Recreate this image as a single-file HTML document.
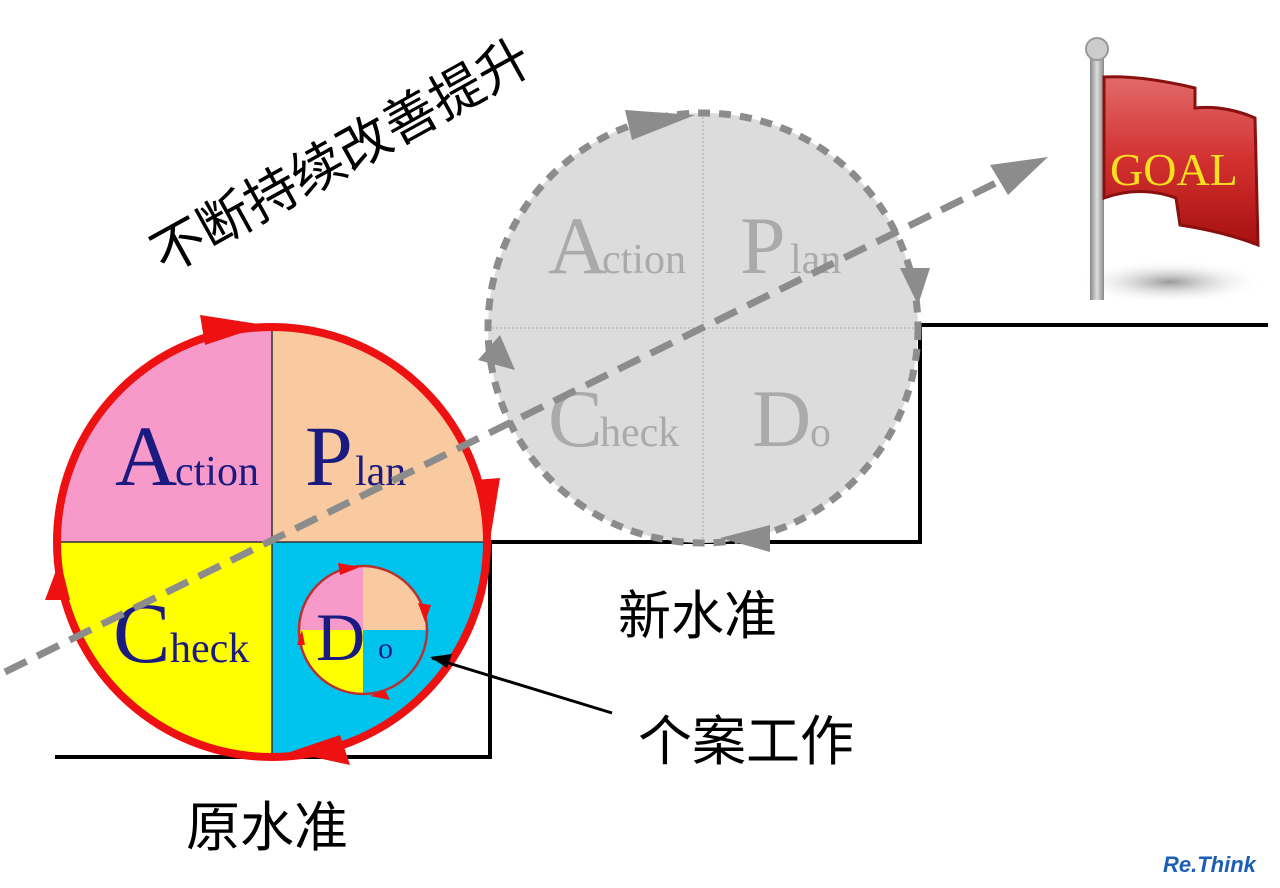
<!DOCTYPE html>
<html><head><meta charset="utf-8"><style>
html,body{margin:0;padding:0;background:#fff;}
svg{display:block}
.ser{font-family:"Liberation Serif",serif;}
.cjk{font-family:"Liberation Sans","Noto Sans CJK SC",sans-serif;}
</style></head><body>
<svg width="1280" height="888" viewBox="0 0 1280 888" xmlns="http://www.w3.org/2000/svg">
<defs>
<radialGradient id="sh" cx="0.5" cy="0.5" r="0.5"><stop offset="0" stop-color="#999"/><stop offset="1" stop-color="#fff" stop-opacity="0"/></radialGradient>
<linearGradient id="fl" x1="0" y1="0" x2="0" y2="1"><stop offset="0" stop-color="#e36a6a"/><stop offset="0.5" stop-color="#d23030"/><stop offset="1" stop-color="#a81010"/></linearGradient>
<linearGradient id="pole" x1="0" y1="0" x2="1" y2="0"><stop offset="0" stop-color="#888"/><stop offset="0.5" stop-color="#ddd"/><stop offset="1" stop-color="#888"/></linearGradient>
</defs>
<polyline points="55,757 490,757 490,542 920,542 920,325 1268,325" fill="none" stroke="#000" stroke-width="4"/>
<circle cx="703" cy="328" r="215" fill="#dcdcdc"/>
<line x1="703" y1="113" x2="703" y2="543" stroke="#aaa" stroke-width="1" stroke-dasharray="2,2"/>
<line x1="488" y1="328" x2="918" y2="328" stroke="#aaa" stroke-width="1" stroke-dasharray="2,2"/>
<circle cx="703" cy="328" r="215" fill="none" stroke="#8c8c8c" stroke-width="7" stroke-dasharray="12,9"/>
<g fill="#8c8c8c">
<polygon points="625,110 695,115 632,140"/>
<polygon points="900,268 930,268 918,305"/>
<polygon points="720,538 770,525 770,552"/>
<polygon points="478,360 500,335 515,370"/>
</g>
<g class="ser" fill="#aaa">
<text x="548" y="273" font-size="82">A</text><text x="602" y="273" font-size="42">ction</text>
<text x="740" y="273" font-size="82">P</text><text x="790" y="273" font-size="42">lan</text>
<text x="548" y="446" font-size="82">C</text><text x="600" y="446" font-size="42">heck</text>
<text x="752" y="446" font-size="82">D</text><text x="810" y="446" font-size="42">o</text>
</g>
<path d="M272,542 L272,327 A215,215 0 0 0 57,542 Z" fill="#f79ac9"/>
<path d="M272,542 L487,542 A215,215 0 0 0 272,327 Z" fill="#f9c9a0"/>
<path d="M272,542 L57,542 A215,215 0 0 0 272,757 Z" fill="#ffff00"/>
<path d="M272,542 L272,757 A215,215 0 0 0 487,542 Z" fill="#00c3ee"/>
<line x1="272" y1="327" x2="272" y2="757" stroke="#333" stroke-width="1.5"/>
<line x1="57" y1="542" x2="487" y2="542" stroke="#333" stroke-width="1.5"/>
<circle cx="272" cy="542" r="215" fill="none" stroke="#ee1111" stroke-width="8"/>
<g fill="#ee1111">
<polygon points="200,315 265,325 205,345"/>
<polygon points="475,480 500,478 490,540"/>
<polygon points="340,735 350,765 290,752"/>
<polygon points="45,600 70,600 60,560"/>
</g>
<g class="ser" fill="#1a1a80">
<text x="115" y="485" font-size="86">A</text><text x="175" y="485" font-size="42">ction</text>
<text x="305" y="485" font-size="86">P</text><text x="355" y="485" font-size="42">lan</text>
<text x="113" y="662" font-size="86">C</text><text x="170" y="662" font-size="42">heck</text>
</g>
<g>
<path d="M363,630 L363,566 A64,64 0 0 0 299,630 Z" fill="#f79ac9"/>
<path d="M363,630 L427,630 A64,64 0 0 0 363,566 Z" fill="#f9c9a0"/>
<path d="M363,630 L299,630 A64,64 0 0 0 363,694 Z" fill="#ffff00"/>
<circle cx="363" cy="630" r="64" fill="none" stroke="#b83030" stroke-width="2.5"/>
<g fill="#ee1111">
<polygon points="338,563 360,567 340,575"/>
<polygon points="418,603 431,605 425,622"/>
<polygon points="385,690 390,700 370,696"/>
<polygon points="297,645 305,645 302,630"/>
</g>
<text class="ser" x="316" y="660" font-size="68" fill="#1a1a80">D</text>
<text class="ser" x="378" y="658" font-size="30" fill="#1a1a80">o</text>
</g>
<line x1="432" y1="658" x2="612" y2="713" stroke="#000" stroke-width="3"/>
<polygon points="430,657 452,654 447,668" fill="#000"/>
<line x1="5" y1="672" x2="1010" y2="176" stroke="#8c8c8c" stroke-width="7" stroke-dasharray="24,12"/>
<polygon points="1048,157 990,165 1008,195" fill="#8c8c8c"/>
<text class="cjk" transform="translate(350,172) rotate(-29)" text-anchor="middle" font-size="53" fill="#000">不断持续改善提升</text>
<text class="cjk" x="618" y="634" font-size="53" fill="#000">新水准</text>
<text class="cjk" x="638" y="760" font-size="54" fill="#000">个案工作</text>
<text class="cjk" x="186" y="846" font-size="54" fill="#000">原水准</text>
<ellipse cx="1170" cy="282" rx="95" ry="22" fill="url(#sh)"/>
<rect x="1090" y="55" width="14" height="245" fill="url(#pole)"/>
<circle cx="1097" cy="49" r="11" fill="#ccc" stroke="#999" stroke-width="2"/>
<path d="M1104,77 Q1140,75 1195,88 L1195,108 Q1225,105 1255,118 L1258,245 Q1225,232 1180,225 L1176,198 Q1140,185 1104,198 Z" fill="url(#fl)" stroke="#8a1010" stroke-width="3"/>
<text class="ser" x="1110" y="185" font-size="46" fill="#f8e020">GOAL</text>
<text x="1163" y="872" font-family="Liberation Sans,sans-serif" font-size="22" font-weight="bold" font-style="italic" fill="#1a5fb4">Re.Think</text>
</svg>
</body></html>
